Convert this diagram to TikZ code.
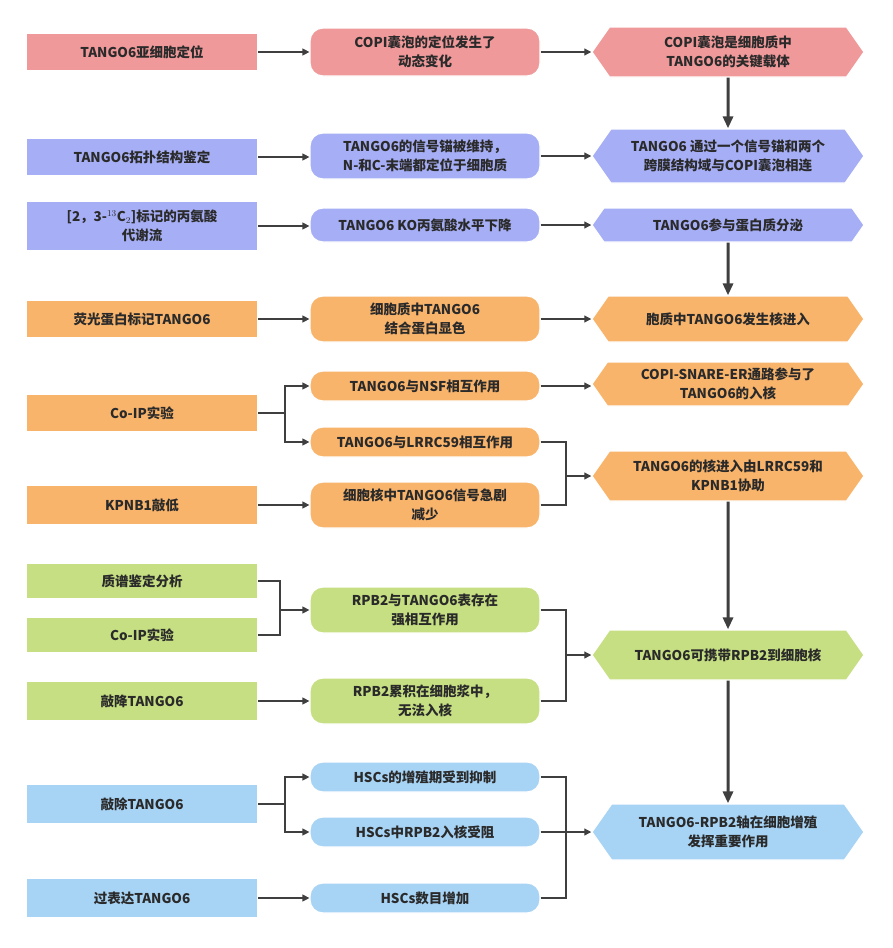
\documentclass[tikz,border=0pt]{standalone}
\usepackage{fontspec}
\setmainfont{Noto Sans CJK SC}
\usetikzlibrary{shapes.symbols,arrows.meta}
\definecolor{cr}{HTML}{F0999A}
\definecolor{cb}{HTML}{A6AEF5}
\definecolor{co}{HTML}{F9B46C}
\definecolor{cg}{HTML}{C6DF82}
\definecolor{cl}{HTML}{A7D3F5}
\definecolor{tx}{HTML}{2A2A2A}
\begin{document}
\begin{tikzpicture}[x=1pt,y=-1pt,
  base/.style={draw=white,line width=1.2pt,text=tx,font=\bfseries\fontsize{13.5}{19}\selectfont,align=center,inner sep=1pt},
  L/.style={base,rectangle,minimum width=231pt},
  M/.style={base,rectangle,rounded corners=13pt,minimum width=230pt},
  R/.style={base,signal,signal to=west and east,signal pointer angle=110,minimum width=272pt},
  ar/.style={-{Triangle[length=7pt,width=7pt]},line width=1.2pt,draw=tx!90},
  ln/.style={line width=1.2pt,draw=tx!90},
  va/.style={-{Triangle[length=12pt,width=10pt]},line width=3pt,draw=tx!90}]
\useasboundingbox (0,0) rectangle (892,948);
% row 1
\node[L,fill=cr,minimum height=38pt] (l1) at (142,52) {TANGO6亚细胞定位};
\node[M,fill=cr,minimum height=48pt] (m1) at (425,52) {COPI囊泡的定位发生了\\动态变化};
\node[R,fill=cr,minimum height=50pt] (r1) at (728,52) {COPI囊泡是细胞质中\\TANGO6的关键载体};
% row 2
\node[L,fill=cb,minimum height=38pt] (l2) at (142,157) {TANGO6拓扑结构鉴定};
\node[M,fill=cb,minimum height=46pt] (m2) at (425,156) {TANGO6的信号锚被维持，\\N-和C-末端都定位于细胞质};
\node[R,fill=cb,minimum height=54pt] (r2) at (728,156) {TANGO6 通过一个信号锚和两个\\跨膜结构域与COPI囊泡相连};
% row 3
\node[L,fill=cb,minimum height=50pt] (l3) at (142,226) {[2，3-$^{13}$C$_2$]标记的丙氨酸\\代谢流};
\node[M,fill=cb,minimum height=34pt] (m3) at (425,225) {TANGO6 KO丙氨酸水平下降};
\node[R,fill=cb,minimum height=34pt] (r3) at (728,225) {TANGO6参与蛋白质分泌};
% row 4
\node[L,fill=co,minimum height=38pt] (l4) at (142,319) {荧光蛋白标记TANGO6};
\node[M,fill=co,minimum height=46pt] (m4) at (425,319) {细胞质中TANGO6\\结合蛋白显色};
\node[R,fill=co,minimum height=46pt] (r4) at (728,319) {胞质中TANGO6发生核进入};
% orange group
\node[L,fill=co,minimum height=38pt] (l5) at (142,413) {Co-IP实验};
\node[M,fill=co,minimum height=30pt] (m5) at (425,386) {TANGO6与NSF相互作用};
\node[R,fill=co,minimum height=44pt] (r5) at (728,384) {COPI-SNARE-ER通路参与了\\TANGO6的入核};
\node[M,fill=co,minimum height=30pt] (m6) at (425,442) {TANGO6与LRRC59相互作用};
\node[L,fill=co,minimum height=40pt] (l6) at (142,505) {KPNB1敲低};
\node[M,fill=co,minimum height=46pt] (m7) at (425,505) {细胞核中TANGO6信号急剧\\减少};
\node[R,fill=co,minimum height=50pt] (r6) at (728,476) {TANGO6的核进入由LRRC59和\\KPNB1协助};
% green group
\node[L,fill=cg,minimum height=36pt] (g1) at (142,581) {质谱鉴定分析};
\node[L,fill=cg,minimum height=36pt] (g2) at (142,635) {Co-IP实验};
\node[M,fill=cg,minimum height=46pt] (g3) at (425,610) {RPB2与TANGO6表存在\\强相互作用};
\node[L,fill=cg,minimum height=40pt] (g4) at (142,701) {敲降TANGO6};
\node[M,fill=cg,minimum height=46pt] (g5) at (425,701) {RPB2累积在细胞浆中，\\无法入核};
\node[R,fill=cg,minimum height=50pt] (g6) at (728,655) {TANGO6可携带RPB2到细胞核};
% blue group
\node[L,fill=cl,minimum height=40pt] (b1) at (142,804) {敲除TANGO6};
\node[M,fill=cl,minimum height=30pt] (b2) at (425,777) {HSCs的增殖期受到抑制};
\node[M,fill=cl,minimum height=30pt] (b3) at (425,832) {HSCs中RPB2入核受阻};
\node[L,fill=cl,minimum height=40pt] (b4) at (142,898) {过表达TANGO6};
\node[M,fill=cl,minimum height=30pt] (b5) at (425,898) {HSCs数目增加};
\node[R,fill=cl,minimum height=56pt] (b6) at (728,832) {TANGO6-RPB2轴在细胞增殖\\发挥重要作用};
% straight arrows
\foreach \a/\b in {l1/m1,m1/r1,l2/m2,m2/r2,l3/m3,m3/r3,l4/m4,m4/r4,m5/r5,l6/m7,g4/g5,b4/b5,b3/b6}
  \draw[ar] (\a.east) -- (\a.east -| \b.west);
% vertical arrows
\draw[va] (r1) -- (r2);
\draw[va] (r3) -- (r4);
\draw[va] (r6) -- (g6);
\draw[va] (g6) -- (b6);
% branches
\coordinate (j1) at (285,413);
\draw[ln] (l5.east) -- (j1);
\draw[ar] (j1) |- (m5.west);
\draw[ar] (j1) |- (m6.west);
\coordinate (j2) at (566,476);
\draw[ln] (m6.east) -| (j2);
\draw[ln] (m7.east) -| (j2);
\draw[ar] (j2) -- (r6.west);
\coordinate (j3) at (280,610);
\draw[ln] (g1.east) -| (j3);
\draw[ln] (g2.east) -| (j3);
\draw[ar] (j3) -- (g3.west);
\coordinate (j4) at (566,655);
\draw[ln] (g3.east) -| (j4);
\draw[ln] (g5.east) -| (j4);
\draw[ar] (j4) -- (g6.west);
\coordinate (j5) at (285,804);
\draw[ln] (b1.east) -- (j5);
\draw[ar] (j5) |- (b2.west);
\draw[ar] (j5) |- (b3.west);
\coordinate (j6) at (566,832);
\draw[ln] (b2.east) -| (j6);
\draw[ln] (b5.east) -| (j6);
\end{tikzpicture}
\end{document}
